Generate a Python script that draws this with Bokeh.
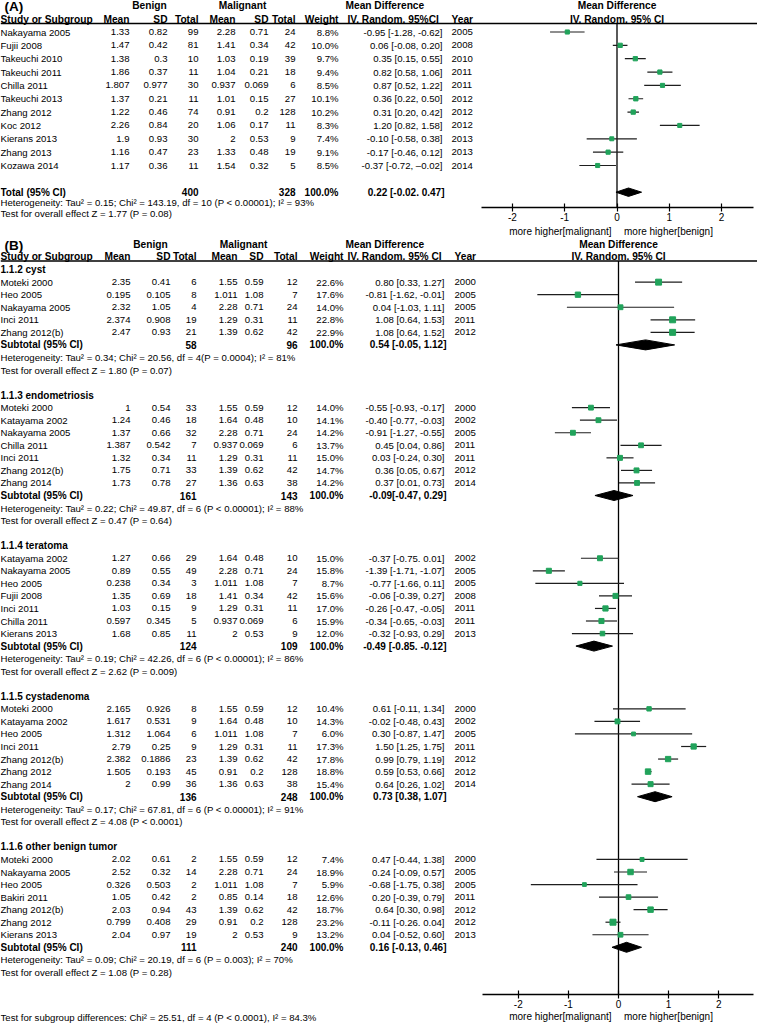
from bokeh.plotting import figure
from bokeh.models import Range1d, LinearAxis, FixedTicker, ColumnDataSource
from bokeh.layouts import column
from bokeh.embed import file_html
from bokeh.resources import INLINE
from bokeh.core.properties import value

# ======================= DATA : panel A =======================
A_study = ["Nakayama 2005", "Fujii 2008", "Takeuchi 2010", "Takeuchi 2011", "Chilla  2011",
           "Takeuchi 2013", "Zhang 2012", "Koc 2012", "Kierans 2013", "Zhang 2013", "Kozawa 2014"]
A_b_mean = ["1.33", "1.47", "1.38", "1.86", "1.807", "1.37", "1.22", "2.26", "1.9", "1.16", "1.17"]
A_b_sd = ["0.82", "0.42", "0.3", "0.37", "0.977", "0.21", "0.46", "0.84", "0.93", "0.47", "0.36"]
A_b_n = [99, 81, 10, 11, 30, 11, 74, 20, 30, 23, 11]
A_m_mean = ["2.28", "1.41", "1.03", "1.04", "0.937", "1.01", "0.91", "1.06", "2", "1.33", "1.54"]
A_m_sd = ["0.71", "0.34", "0.19", "0.21", "0.069", "0.15", "0.2", "0.17", "0.53", "0.48", "0.32"]
A_m_n = [24, 42, 39, 18, 6, 27, 128, 11, 9, 19, 5]
A_weight = [8.8, 10.0, 9.7, 9.4, 8.5, 10.1, 10.2, 8.3, 7.4, 9.1, 8.5]
A_md = [-0.95, 0.06, 0.35, 0.82, 0.87, 0.36, 0.31, 1.20, -0.10, -0.17, -0.37]
A_lo = [-1.28, -0.08, 0.15, 0.58, 0.52, 0.22, 0.20, 0.82, -0.58, -0.46, -0.72]
A_hi = [-0.62, 0.20, 0.55, 1.06, 1.22, 0.50, 0.42, 1.58, 0.38, 0.12, -0.02]
A_ci_text = ["-0.95 [-1.28, -0.62]", "0.06 [-0.08, 0.20]", "0.35 [0.15, 0.55]", "0.82 [0.58, 1.06]",
             "0.87 [0.52, 1.22]", "0.36 [0.22, 0.50]", "0.31 [0.20, 0.42]", "1.20 [0.82, 1.58]",
             "-0.10 [-0.58, 0.38]", "-0.17 [-0.46, 0.12]", "-0.37 [-0.72, \u20130.02]"]
A_year = ["2005", "2008", "2010", "2011", "2011", "2012", "2012", "2012", "2013", "2013", "2014"]
A_tot_b_n = 400
A_tot_m_n = 328
A_tot_md = 0.22
A_tot_lo = -0.02
A_tot_hi = 0.47
A_tot_text = "0.22 [-0.02. 0.47]"
A_het = "Heterogeneity: Tau\u00b2 = 0.15; Chi\u00b2 = 143.19, df = 10 (P < 0.00001); I\u00b2 = 93%"
A_test = "Test for overall effect Z = 1.77 (P = 0.08)"

# ======================= DATA : panel B =======================
B_groups = ["1.1.2 cyst", "1.1.3 endometriosis", "1.1.4 teratoma", "1.1.5 cystadenoma",
            "1.1.6 other benign tumor"]
B_group = [0, 0, 0, 0, 0,
           1, 1, 1, 1, 1, 1, 1,
           2, 2, 2, 2, 2, 2, 2,
           3, 3, 3, 3, 3, 3, 3,
           4, 4, 4, 4, 4, 4, 4]
B_study = ["Moteki 2000", "Heo 2005", "Nakayama 2005", "Inci 2011", "Zhang 2012(b)",
           "Moteki 2000", "Katayama 2002", "Nakayama 2005", "Chilla 2011", "Inci 2011", "Zhang 2012(b)", "Zhang 2014",
           "Katayama 2002", "Nakayama 2005", "Heo 2005", "Fujii 2008", "Inci 2011", "Chilla 2011", "Kierans 2013",
           "Moteki 2000", "Katayama 2002", "Heo 2005", "Inci 2011", "Zhang 2012(b)", "Zhang 2012", "Zhang 2014",
           "Moteki 2000", "Nakayama 2005", "Heo 2005", "Bakiri 2011", "Zhang 2012(b)", "Zhang 2012", "Kierans 2013"]
B_b_mean = ["2.35", "0.195", "2.32", "2.374", "2.47",
            "1", "1.24", "1.37", "1.387", "1.32", "1.75", "1.73",
            "1.27", "0.89", "0.238", "1.35", "1.03", "0.597", "1.68",
            "2.165", "1.617", "1.312", "2.79", "2.382", "1.505", "2",
            "2.02", "2.52", "0.326", "1.05", "2.03", "0.799", "2.04"]
B_b_sd = ["0.41", "0.105", "1.05", "0.908", "0.93",
          "0.54", "0.46", "0.66", "0.542", "0.34", "0.71", "0.78",
          "0.66", "0.55", "0.34", "0.69", "0.15", "0.345", "0.85",
          "0.926", "0.531", "1.064", "0.25", "0.1886", "0.193", "0.99",
          "0.61", "0.32", "0.503", "0.42", "0.94", "0.408", "0.97"]
B_b_n = [6, 8, 4, 19, 21,
         33, 18, 32, 7, 11, 33, 27,
         29, 49, 3, 18, 9, 5, 11,
         8, 9, 6, 9, 23, 45, 36,
         2, 14, 2, 2, 43, 29, 19]
B_m_mean = ["1.55", "1.011", "2.28", "1.29", "1.39",
            "1.55", "1.64", "2.28", "0.937", "1.29", "1.39", "1.36",
            "1.64", "2.28", "1.011", "1.41", "1.29", "0.937", "2",
            "1.55", "1.64", "1.011", "1.29", "1.39", "0.91", "1.36",
            "1.55", "2.28", "1.011", "0.85", "1.39", "0.91", "2"]
B_m_sd = ["0.59", "1.08", "0.71", "0.31", "0.62",
          "0.59", "0.48", "0.71", "0.069", "0.31", "0.62", "0.63",
          "0.48", "0.71", "1.08", "0.34", "0.31", "0.069", "0.53",
          "0.59", "0.48", "1.08", "0.31", "0.62", "0.2", "0.63",
          "0.59", "0.71", "1.08", "0.14", "0.62", "0.2", "0.53"]
B_m_n = [12, 7, 24, 11, 42,
         12, 10, 24, 6, 11, 42, 38,
         10, 24, 7, 42, 11, 6, 9,
         12, 10, 7, 11, 42, 128, 38,
         12, 24, 7, 18, 42, 128, 9]
B_weight = [22.6, 17.6, 14.0, 22.8, 22.9,
            14.0, 14.1, 14.2, 13.7, 15.0, 14.7, 14.2,
            15.0, 15.8, 8.7, 15.6, 17.0, 15.9, 12.0,
            10.4, 14.3, 6.0, 17.3, 17.8, 18.8, 15.4,
            7.4, 18.9, 5.9, 12.6, 18.7, 23.2, 13.2]
B_md = [0.80, -0.81, 0.04, 1.08, 1.08,
        -0.55, -0.40, -0.91, 0.45, 0.03, 0.36, 0.37,
        -0.37, -1.39, -0.77, -0.06, -0.26, -0.34, -0.32,
        0.61, -0.02, 0.30, 1.50, 0.99, 0.59, 0.64,
        0.47, 0.24, -0.68, 0.20, 0.64, -0.11, 0.04]
B_lo = [0.33, -1.62, -1.03, 0.64, 0.64,
        -0.93, -0.77, -1.27, 0.04, -0.24, 0.05, 0.01,
        -0.75, -1.71, -1.66, -0.39, -0.47, -0.65, -0.93,
        -0.11, -0.48, -0.87, 1.25, 0.79, 0.53, 0.26,
        -0.44, -0.09, -1.75, -0.39, 0.30, -0.26, -0.52]
B_hi = [1.27, -0.01, 1.11, 1.53, 1.52,
        -0.17, -0.03, -0.55, 0.86, 0.30, 0.67, 0.73,
        0.01, -1.07, 0.11, 0.27, -0.05, -0.03, 0.29,
        1.34, 0.43, 1.47, 1.75, 1.19, 0.66, 1.02,
        1.38, 0.57, 0.38, 0.79, 0.98, 0.04, 0.60]
B_ci_text = ["0.80 [0.33, 1.27]", "-0.81 [-1.62, -0.01]", "0.04 [-1.03, 1.11]", "1.08 [0.64, 1.53]", "1.08 [0.64, 1.52]",
             "-0.55 [-0.93, -0.17]", "-0.40 [-0.77, -0.03]", "-0.91 [-1.27, -0.55]", "0.45 [0.04, 0.86]",
             "0.03 [-0.24, 0.30]", "0.36 [0.05, 0.67]", "0.37 [0.01, 0.73]",
             "-0.37 [-0.75. 0.01]", "-1.39 [-1.71, -1.07]", "-0.77 [-1.66, 0.11]", "-0.06 [-0.39, 0.27]",
             "-0.26 [-0.47, -0.05]", "-0.34 [-0.65, -0.03]", "-0.32 [-0.93, 0.29]",
             "0.61 [-0.11, 1.34]", "-0.02 [-0.48, 0.43]", "0.30 [-0.87, 1.47]", "1.50 [1.25, 1.75]",
             "0.99 [0.79, 1.19]", "0.59 [0.53, 0.66]", "0.64 [0.26, 1.02]",
             "0.47 [-0.44, 1.38]", "0.24 [-0.09, 0.57]", "-0.68 [-1.75, 0.38]", "0.20 [-0.39, 0.79]",
             "0.64 [0.30, 0.98]", "-0.11 [-0.26. 0.04]", "0.04 [-0.52, 0.60]"]
B_year = ["2000", "2005", "2005", "2011", "2012",
          "2000", "2002", "2005", "2011", "2011", "2012", "2014",
          "2002", "2005", "2005", "2008", "2011", "2011", "2013",
          "2000", "2002", "2005", "2011", "2012", "2012", "2014",
          "2000", "2005", "2005", "2011", "2012", "2012", "2013"]
B_sub_b_n = [58, 161, 124, 136, 111]
B_sub_m_n = [96, 143, 109, 248, 240]
B_sub_md = [0.54, -0.09, -0.49, 0.73, 0.16]
B_sub_lo = [-0.05, -0.47, -0.85, 0.38, -0.13]
B_sub_hi = [1.12, 0.29, -0.12, 1.07, 0.46]
B_sub_text = ["0.54 [-0.05, 1.12]", "-0.09[-0.47, 0.29]", "-0.49 [-0.85. -0.12]",
              "0.73 [0.38, 1.07]", "0.16 [-0.13, 0.46]"]
B_het = ["Heterogeneity: Tau\u00b2 = 0.34; Chi\u00b2 = 20.56, df =  4(P = 0.0004); I\u00b2 = 81%",
         "Heterogeneity: Tau\u00b2 = 0.22; Chi\u00b2 = 49.87, df = 6 (P < 0.00001); I\u00b2 = 88%",
         "Heterogeneity: Tau\u00b2 = 0.19; Chi\u00b2 = 42.26, df = 6 (P < 0.00001); I\u00b2 = 86%",
         "Heterogeneity: Tau\u00b2 = 0.17; Chi\u00b2 = 67.81, df = 6 (P < 0.00001); I\u00b2 = 91%",
         "Heterogeneity: Tau\u00b2 = 0.09; Chi\u00b2 = 20.19, df = 6 (P = 0.003); I\u00b2 = 70%"]
B_test = ["Test for overall effect Z = 1.80 (P = 0.07)",
          "Test for overall effect Z = 0.47 (P = 0.64)",
          "Test for overall effect Z = 2.62 (P = 0.009)",
          "Test for overall effect Z = 4.08 (P < 0.0001)",
          "Test for overall effect Z = 1.08 (P = 0.28)"]
B_subgroup_test = "Test for subgroup differences: Chi\u00b2 = 25.51, df = 4 (P < 0.0001), I\u00b2 = 84.3%"

TICKS = [-2, -1, 0, 1, 2]
TICK_LABELS = ["-2", "-1", "0", "1", "2"]
LEFT_LABEL = "more higher[malignant]"
RIGHT_LABEL = "more higher[benign]"

# ======================= STYLE / LAYOUT =======================
FONT = "Liberation Sans"
FS = "9.6px"          # body text
FH = "10.2px"         # bold column headers
FB = "10px"           # bold total / subgroup rows
GREEN = "#21a35b"
W = 757
PX0, PX1 = 5, 762          # reference-pixel x range for the table part


def txt(p, xs, ys, texts, align="left", bold=False, size=FS):
    src = ColumnDataSource(dict(x=list(xs), y=list(ys), t=[str(t) for t in texts]))
    p.text(x="x", y="y", text="t", source=src, x_range_name="px",
           text_align=align, text_baseline="middle", text_font=value(FONT),
           text_font_size=size, text_font_style="bold" if bold else "normal",
           text_color="black")


def make_fig(height, ytop, zero_px, scale):
    x0 = -(zero_px - PX0) / scale
    x1 = (PX1 - zero_px) / scale
    p = figure(width=W, height=height, x_range=Range1d(x0, x1),
               y_range=Range1d(ytop + height, ytop),
               x_axis_type=None, y_axis_type=None, toolbar_location=None,
               output_backend="svg", min_border=0, outline_line_color=None,
               background_fill_color="white", border_fill_color="white")
    p.extra_x_ranges = {"px": Range1d(PX0, PX1)}
    p.grid.visible = False
    return p


def add_axis(p, y, bounds):
    ax = LinearAxis(fixed_location=y, bounds=bounds, ticker=FixedTicker(ticks=TICKS),
                    major_label_overrides={t: l for t, l in zip(TICKS, TICK_LABELS)},
                    axis_line_color="black", axis_line_width=1.3,
                    major_tick_line_color="black", major_tick_line_width=1.2,
                    major_tick_in=4, major_tick_out=4, minor_tick_line_color=None,
                    major_label_standoff=1, major_label_text_font=FONT,
                    major_label_text_font_size="10px", major_label_text_color="black")
    p.add_layout(ax, "below")


def forest(p, md, lo, hi, ys, weight):
    p.segment(x0=lo, y0=ys, x1=hi, y1=ys, line_color="#1e1e1e", line_width=1.2)
    sizes = [3.0 + 0.13 * w for w in weight]
    p.scatter(x=md, y=ys, size=sizes, marker="square", fill_color=GREEN, line_color=GREEN)


def diamonds(p, md, lo, hi, ys, h):
    xs = [[l, m, u, m] for m, l, u in zip(md, lo, hi)]
    yy = [[y, y - h, y, y + h] for y in ys]
    p.patches(xs=xs, ys=yy, fill_color="black", line_color="black", line_width=1)


def header(p, y1, y2, ry, tag, cols, zero_px, mdtxt):
    txt(p, [9], [y1 + 1], [tag], bold=True, size="13.5px")
    txt(p, [cols["benign_c"], cols["malig_c"]], [y1, y1], ["Benign", "Malignant"], align="center",
        bold=True, size=FH)
    txt(p, [350], [y1], ["Mean Difference"], bold=True, size=FH)
    txt(p, [zero_px, zero_px], [y1, y2], ["Mean Difference", "IV. Random. 95% CI"], align="center",
        bold=True, size=FH)
    txt(p, [5], [y2], ["Study or Subgroup"], bold=True, size=FH)
    txt(p, [cols["bm"], cols["bsd"], cols["bn"], cols["mm"], cols["msd"], cols["mn"], cols["w"]], [y2] * 7,
        ["Mean", "SD", "Total", "Mean", "SD", "Total", "Weight"], align="right", bold=True, size=FH)
    txt(p, [352, cols["yr"]], [y2, y2], [mdtxt, "Year"], bold=True, size=FH)
    p.segment(x0=[PX0], y0=[ry], x1=[PX1], y1=[ry], x_range_name="px", line_color="black", line_width=1.4)


def study_rows(p, ys, cols, study, bm, bsd, bn, mm, msd, mn, wt, ci, yr):
    txt(p, [5] * len(ys), ys, study)
    for key, vals in (("bm", bm), ("bsd", bsd), ("bn", bn), ("mm", mm), ("msd", msd), ("mn", mn)):
        txt(p, [cols[key]] * len(ys), ys, vals, align="right")
    txt(p, [cols["w"]] * len(ys), ys, ["%.1f%%" % w for w in wt], align="right")
    txt(p, [cols["ci"]] * len(ys), ys, ci, align="right")
    txt(p, [cols["yr"]] * len(ys), ys, yr)


# ======================= PANEL A =======================
A_TOP, A_H = 2, 238
A_ZERO, A_SCALE = 621.5, 52.3
A_COLS = dict(bm=134, bsd=172, bn=203, mm=240, msd=273, mn=300, w=343, ci=447, yr=456,
              benign_c=154, malig_c=247)
pA = make_fig(A_H, A_TOP, A_ZERO, A_SCALE)
A_RULE, A_AXIS = 25, 209
header(pA, 7, 20.5, A_RULE, "(A)", A_COLS, A_ZERO, "IV. Random. 95%CI")
A_ys = [33.5 + i * 13.35 for i in range(len(A_study))]
study_rows(pA, A_ys, A_COLS, A_study, A_b_mean, A_b_sd, A_b_n, A_m_mean, A_m_sd, A_m_n,
           A_weight, A_ci_text, A_year)
A_tot_y = A_ys[-1] + 2 * 13.35
txt(pA, [5], [A_tot_y], ["Total (95% CI)"], bold=True, size=FB)
txt(pA, [A_COLS["bn"], A_COLS["mn"], A_COLS["w"], A_COLS["ci"] + 2], [A_tot_y] * 4,
    [A_tot_b_n, A_tot_m_n, "100.0%", A_tot_text], align="right", bold=True, size=FB)
txt(pA, [5, 5], [A_tot_y + 10.5, A_tot_y + 21], [A_het, A_test])
pA.segment(x0=[0], y0=[A_RULE], x1=[0], y1=[A_AXIS], line_color="black", line_width=1.3)
forest(pA, A_md, A_lo, A_hi, A_ys, A_weight)
diamonds(pA, [A_tot_md], [A_tot_lo], [A_tot_hi], [A_tot_y], 4.2)
add_axis(pA, A_AXIS, ((486 - A_ZERO) / A_SCALE, (758 - A_ZERO) / A_SCALE))
txt(pA, [616], [233], [LEFT_LABEL], align="right", size="10px")
txt(pA, [628.5], [233], [RIGHT_LABEL], align="left", size="10px")

# ======================= PANEL B =======================
B_TOP, B_H = A_TOP + A_H, 785
B_ZERO, B_SCALE = 623.0, 50.1
B_COLS = dict(bm=135, bsd=175, bn=201, mm=242, msd=268, mn=302, w=348, ci=449, yr=459,
              benign_c=155, malig_c=248)
pB = make_fig(B_H, B_TOP, B_ZERO, B_SCALE)
B_Y0, B_DY = 246, 12.55
B_RULE, B_AXIS = 262.5, 996
header(pB, B_Y0, B_Y0 + 12.3, B_RULE, "(B)", B_COLS, B_ZERO, "IV. Random. 95% CI")

row = 2
B_ys = []
sub_ys = []
lab_x, lab_y, lab_t = [], [], []
for g, gname in enumerate(B_groups):
    lab_x.append(5)
    lab_y.append(B_Y0 + row * B_DY)
    lab_t.append(gname)
    n = B_group.count(g)
    for k in range(n):
        B_ys.append(B_Y0 + (row + 1 + k) * B_DY)
    sub_ys.append(B_Y0 + (row + n + 1) * B_DY)
    row += n + 5
txt(pB, lab_x, lab_y, lab_t, bold=True, size=FB)
study_rows(pB, B_ys, B_COLS, B_study, B_b_mean, B_b_sd, B_b_n, B_m_mean, B_m_sd, B_m_n,
           B_weight, B_ci_text, B_year)
txt(pB, [5] * 5, sub_ys, ["Subtotal (95% CI)"] * 5, bold=True, size=FB)
txt(pB, [B_COLS["bn"]] * 5, sub_ys, B_sub_b_n, align="right", bold=True, size=FB)
txt(pB, [B_COLS["mn"]] * 5, sub_ys, B_sub_m_n, align="right", bold=True, size=FB)
txt(pB, [B_COLS["w"]] * 5, sub_ys, ["100.0%"] * 5, align="right", bold=True, size=FB)
txt(pB, [B_COLS["ci"] + 2] * 5, sub_ys, B_sub_text, align="right", bold=True, size=FB)
txt(pB, [5] * 5, [y + B_DY for y in sub_ys], B_het)
txt(pB, [5] * 5, [y + 2 * B_DY for y in sub_ys], B_test)
txt(pB, [5], [1019], [B_subgroup_test])

pB.segment(x0=[0], y0=[B_RULE], x1=[0], y1=[B_AXIS], line_color="black", line_width=1.3)
forest(pB, B_md, B_lo, B_hi, B_ys, B_weight)
diamonds(pB, B_sub_md, B_sub_lo, B_sub_hi, sub_ys, 5.0)
add_axis(pB, B_AXIS, ((487 - B_ZERO) / B_SCALE, (758 - B_ZERO) / B_SCALE))
txt(pB, [616], [1018], [LEFT_LABEL], align="right", size="10px")
txt(pB, [628.5], [1018], [RIGHT_LABEL], align="left", size="10px")

layout = column(pA, pB, spacing=0)
open("out.html", "w").write(file_html(layout, INLINE))
